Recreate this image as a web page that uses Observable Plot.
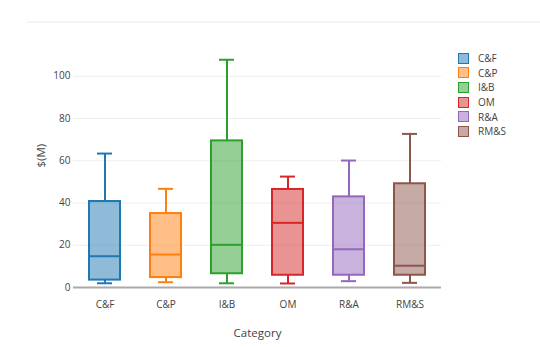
<!DOCTYPE html>
<html>
<head>
<meta charset="utf-8">
<script src="https://cdn.jsdelivr.net/npm/d3@7"></script>
<script src="https://cdn.jsdelivr.net/npm/@observablehq/plot@0.6"></script>
<style>
  html, body { margin: 0; padding: 0; background: #fff; }
  #wrap { position: relative; width: 540px; height: 347px; font-family: "Open Sans", sans-serif; }
  #topline { position: absolute; left: 27px; top: 21px; width: 513px; height: 2px; background: #f4f4f4; }
  #legend { position: absolute; left: 458px; top: 51px; font-size: 10px; color: #444; }
  .item { display: flex; align-items: center; height: 14.6px; }
  .sw { width: 9px; height: 9px; border: 1.5px solid; margin-right: 9px; }
</style>
</head>
<body>
<div id="wrap"><div id="topline"></div><div id="legend"></div></div>
<script>
const categories = ["C&F", "C&P", "I&B", "OM", "R&A", "RM&S"];
const mins    = [2.0, 2.5, 2.0, 1.9, 3.0, 2.2];
const q1s     = [3.5, 4.7, 6.5, 5.8, 5.8, 5.8];
const medians = [14.8, 15.6, 20.2, 30.6, 18.1, 10.3];
const q3s     = [40.7, 35.0, 69.4, 46.4, 42.9, 49.1];
const maxs    = [63.4, 46.7, 107.8, 52.5, 60.1, 72.7];
const colors  = ["#1f77b4", "#ff7f0e", "#2ca02c", "#d62728", "#9467bd", "#8c564b"];
const yTicks  = [0, 20, 40, 60, 80, 100];

const data = categories.map((c, i) => ({
  cat: c, min: mins[i], q1: q1s[i], med: medians[i], q3: q3s[i], max: maxs[i]
}));

const chart = Plot.plot({
  width: 540,
  height: 347,
  marginLeft: 73,
  marginRight: 99,
  marginTop: 47,
  marginBottom: 60,
  style: { fontFamily: "Open Sans, sans-serif", fontSize: "10px", color: "#444", background: "transparent" },
  x: { domain: categories, paddingInner: 0.5, paddingOuter: 0.25, axis: null },
  y: { domain: [0, 113.6], axis: null },
  color: { domain: categories, range: colors },
  marks: [
    Plot.gridY(yTicks.filter(d => d > 0), { stroke: "#eee", strokeOpacity: 1, strokeWidth: 1 }),
    Plot.axisY(yTicks, { tickSize: 0, tickPadding: 3, label: null, fill: "#444", fontSize: 10 }),
    Plot.axisX({ tickSize: 0, tickPadding: 13, label: null, fill: "#444", fontSize: 10 }),
    Plot.ruleY([0], { stroke: "#aaa", strokeWidth: 2 }),
    Plot.ruleX(data, { x: "cat", y1: "q3", y2: "max", stroke: "cat", strokeWidth: 2 }),
    Plot.ruleX(data, { x: "cat", y1: "min", y2: "q1", stroke: "cat", strokeWidth: 2 }),
    Plot.tickY(data, { x: "cat", y: "max", stroke: "cat", strokeWidth: 2, inset: 8 }),
    Plot.tickY(data, { x: "cat", y: "min", stroke: "cat", strokeWidth: 2, inset: 8 }),
    Plot.barY(data, { x: "cat", y1: "q1", y2: "q3", fill: "cat", fillOpacity: 0.5, stroke: "cat", strokeWidth: 2 }),
    Plot.tickY(data, { x: "cat", y: "med", stroke: "cat", strokeWidth: 2 }),
    Plot.text(["$(M)"], { frameAnchor: "left", rotate: -90, dx: -32, fontSize: 11.5, fill: "#444" }),
    Plot.text(["Category"], { frameAnchor: "bottom", dy: 49, fontSize: 11.5, fill: "#444" })
  ]
});
document.getElementById("wrap").prepend(chart);

const legend = document.getElementById("legend");
categories.forEach((c, i) => {
  const item = document.createElement("div");
  item.className = "item";
  const sw = document.createElement("div");
  sw.className = "sw";
  sw.style.borderColor = colors[i];
  sw.style.background = d3.color(colors[i]).copy({ opacity: 0.5 }).formatRgb();
  const t = document.createElement("span");
  t.textContent = c;
  item.append(sw, t);
  legend.append(item);
});
</script>
</body>
</html>
